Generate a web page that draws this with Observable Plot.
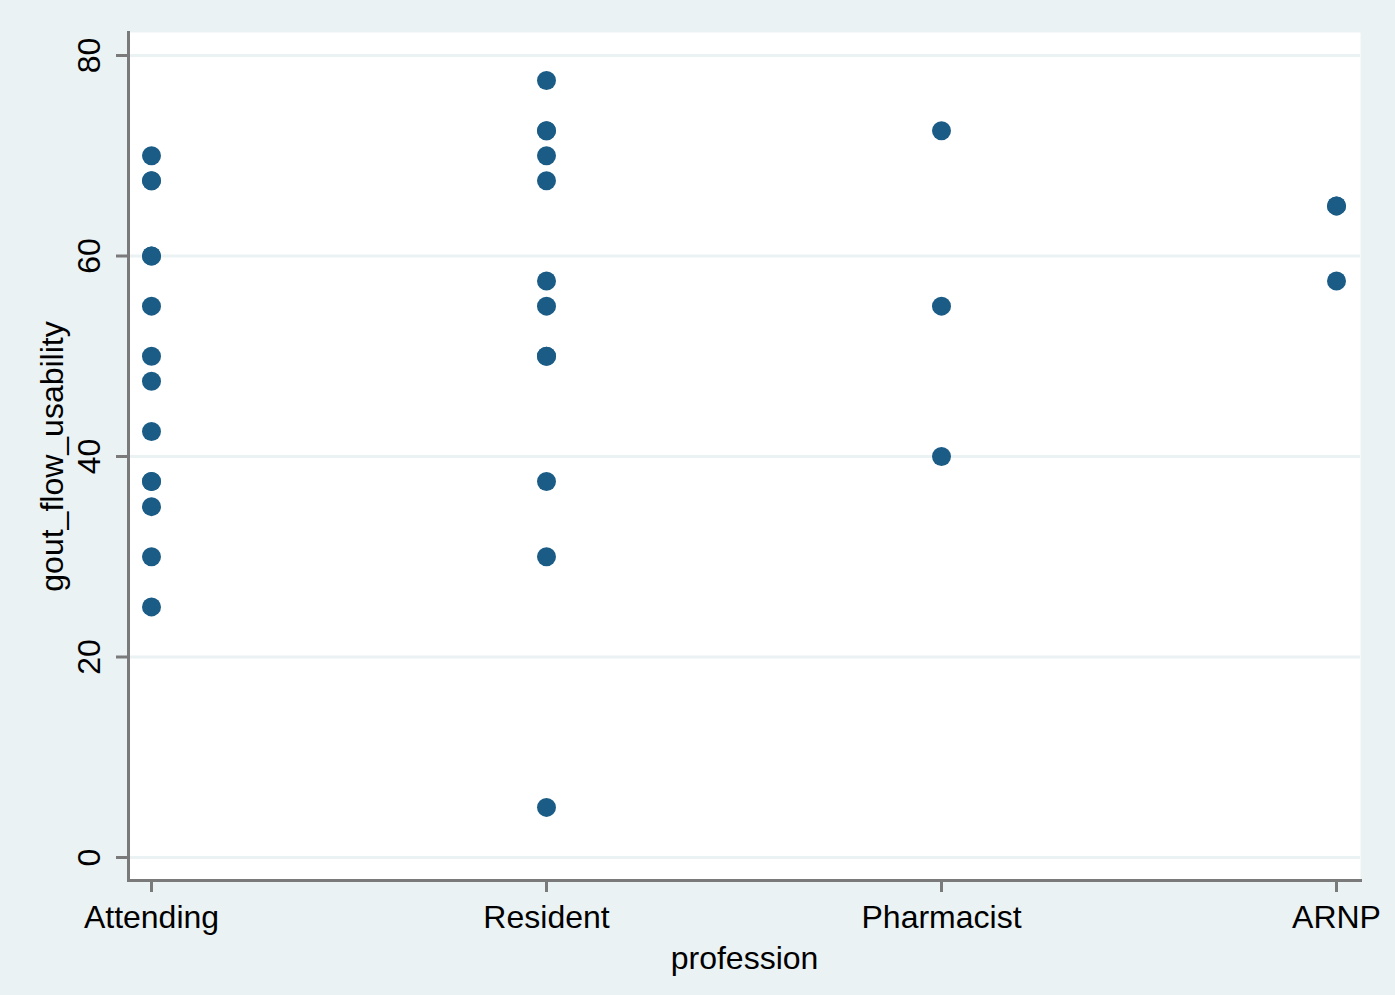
<!DOCTYPE html>
<html><head><meta charset="utf-8">
<script src="https://cdn.jsdelivr.net/npm/d3@7"></script>
<script src="https://cdn.jsdelivr.net/npm/@observablehq/plot@0.6"></script>
<style>html,body{margin:0;padding:0;background:#fff;overflow:hidden}</style>
</head><body><div id="chart"></div>
<script>
const professions = ["Attending", "Resident", "Pharmacist", "ARNP"];
const attending = [70, 67.5, 67.5, 60, 60, 55, 50, 47.5, 42.5, 37.5, 37.5, 35, 30, 25];
const resident = [77.5, 72.5, 72.5, 70, 67.5, 57.5, 55, 50, 50, 37.5, 30, 5];
const pharmacist = [72.5, 55, 40];
const arnp = [65, 65, 57.5];
const yTicks = [0, 20, 40, 60, 80];
const xLabel = "profession";
const yLabel = "gout_flow_usability";

const series = [attending, resident, pharmacist, arnp];
const data = series.flatMap((vals, i) => vals.map(v => ({profession: professions[i], value: v})));

const axisColor = "#7a7a7a";
const bg = "#EAF2F3";
const font = "'Liberation Sans', Arial, Helvetica, sans-serif";

const chart = Plot.plot({
  width: 1395,
  height: 995,
  marginLeft: 128,
  marginRight: 35,
  marginTop: 32,
  marginBottom: 115,
  style: {background: bg, fontFamily: font, fontSize: "32px", color: "#000"},
  x: {type: "point", domain: professions, range: [150, 1337], padding: 0},
  y: {domain: [0, 80], range: [857, 55]},
  marks: [
    Plot.frame({fill: "white", stroke: null}),
    Plot.gridY(yTicks, {stroke: bg, strokeOpacity: 1, strokeWidth: 3}),
    Plot.axisY(yTicks, {tickSize: 12, tickFormat: () => "", stroke: axisColor, strokeWidth: 3, label: null}),
    Plot.text(yTicks, {y: d => d, text: d => String(d), frameAnchor: "left", dx: -39, rotate: -90, fontSize: 32, fill: "#000", textAnchor: "middle", lineAnchor: "middle"}),
    Plot.axisX({tickSize: 12, tickPadding: 13, fontSize: 32, stroke: axisColor, strokeWidth: 3, fill: "#000", label: null}),
    Plot.frame({anchor: "left", stroke: axisColor, strokeWidth: 3}),
    Plot.frame({anchor: "bottom", stroke: axisColor, strokeWidth: 3}),
    Plot.text([xLabel], {text: d => d, frameAnchor: "bottom", dy: 78, fontSize: 32, fill: "#000", lineAnchor: "middle"}),
    Plot.text([yLabel], {text: d => d, frameAnchor: "left", dx: -76, rotate: -90, fontSize: 32, fill: "#000", textAnchor: "middle", lineAnchor: "middle"}),
    Plot.dot(data, {x: "profession", y: "value", r: 9.5, fill: "#1A5C86", stroke: null})
  ]
});
document.getElementById("chart").appendChild(chart);
</script>
</body></html>
